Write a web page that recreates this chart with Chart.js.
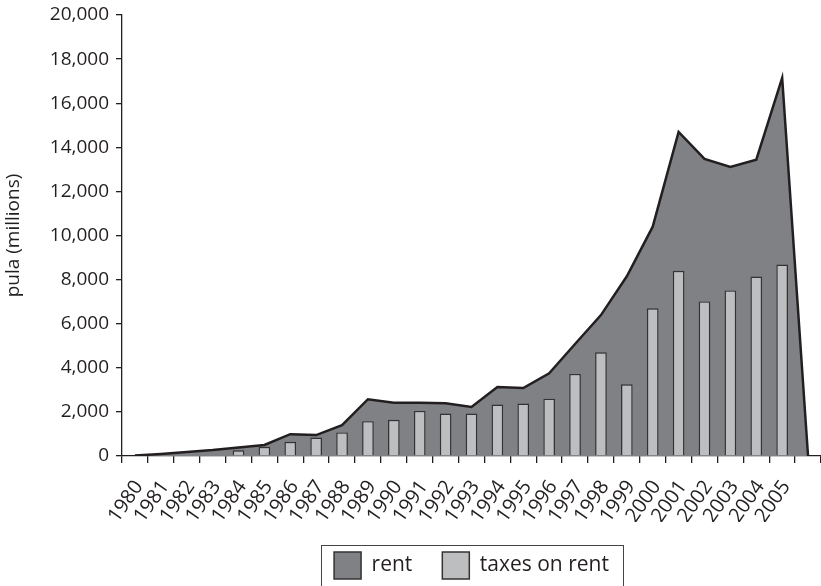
<!DOCTYPE html>
<html>
<head>
<meta charset="utf-8">
<script src="https://cdn.jsdelivr.net/npm/chart.js@4.4.3/dist/chart.umd.min.js"></script>
<style>
  html, body { margin: 0; padding: 0; background: #fff; }
  #wrap { width: 821px; height: 586px; }
</style>
</head>
<body>
<div id="wrap"><canvas id="chart" width="821" height="586"></canvas></div>
<script>
// categorie (l'ultima senza etichetta: solo il punto di chiusura dell'area)
const years = ['1980','1981','1982','1983','1984','1985','1986','1987','1988','1989',
  '1990','1991','1992','1993','1994','1995','1996','1997','1998','1999',
  '2000','2001','2002','2003','2004','2005',''];

// rent (area), pula milioni
const rent = [20, 90, 180, 270, 390, 500, 990, 950, 1400, 2575,
  2420, 2410, 2390, 2225, 3130, 3085, 3750, 5080, 6390, 8150,
  10400, 14700, 13470, 13110, 13440, 17150, 0];

// taxes on rent (barre)
const taxes = [0, 0, 0, 0, 260, 420, 645, 840, 1070, 1580,
  1640, 2045, 1925, 1925, 2330, 2380, 2600, 3720, 4700, 3250,
  6700, 8400, 7010, 7510, 8140, 8680, null];

const yTicks = [0, 2000, 4000, 6000, 8000, 10000, 12000, 14000, 16000, 18000, 20000];

const ink = '#231f20';
const FONT = "'Open Sans', sans-serif";

// legenda centrata sull'area del grafico + bordo
const legendFrame = {
  id: 'legendFrame',
  afterLayout(chart) {
    const lg = chart.legend;
    if (!lg) return;
    lg.left = chart.chartArea.left;
    lg.right = chart.chartArea.right;
    lg.width = lg.right - lg.left;
  },
  afterDraw(chart) {
    const lg = chart.legend;
    if (!lg || !lg.legendHitBoxes || !lg.legendHitBoxes.length) return;
    const hb = lg.legendHitBoxes;
    const x0 = hb[0].left - 13;
    const x1 = hb[hb.length - 1].left + hb[hb.length - 1].width + 14;
    const y0 = hb[0].top - 7;
    const y1 = hb[0].top + hb[0].height + 9;
    const ctx = chart.ctx;
    ctx.save();
    ctx.strokeStyle = '#444';
    ctx.lineWidth = 1;
    ctx.strokeRect(Math.round(x0) + 0.5, Math.round(y0) + 0.5, Math.round(x1 - x0), Math.round(y1 - y0));
    ctx.restore();
  }
};

const ctx = document.getElementById('chart').getContext('2d');
new Chart(ctx, {
  data: {
    labels: years,
    datasets: [
      {
        type: 'line',
        label: 'rent',
        data: rent,
        order: 2,
        fill: 'origin',
        backgroundColor: '#808184',
        borderColor: ink,
        borderWidth: 2.5,
        borderJoinStyle: 'miter',
        tension: 0,
        pointRadius: 0,
      },
      {
        type: 'bar',
        label: 'taxes on rent',
        data: taxes,
        order: 1,
        backgroundColor: '#bcbec0',
        borderColor: '#333',
        borderWidth: 1.4,
        barPercentage: 0.45,
        categoryPercentage: 1,
      }
    ]
  },
  options: {
    responsive: false,
    animation: false,
    layout: { padding: { top: 15, right: 0, left: 0, bottom: -3 } },
    plugins: {
      tooltip: { enabled: false },
      legend: {
        position: 'bottom',
        labels: {
          color: ink,
          font: { family: FONT, size: 21 },
          boxWidth: 27,
          boxHeight: 27,
          padding: 30,
          sort: (a, b) => a.datasetIndex - b.datasetIndex,
          generateLabels(chart) {
            const items = Chart.defaults.plugins.legend.labels.generateLabels(chart);
            items.forEach(it => { it.lineWidth = 1.5; it.strokeStyle = '#333'; });
            return items;
          }
        }
      }
    },
    scales: {
      x: {
        offset: true,
        afterFit(scale) { scale.height = 66; scale.paddingRight = 0; },
        grid: { offset: true, drawOnChartArea: false, tickLength: 7, color: ink, lineWidth: 1.3 },
        border: { color: ink, width: 1.3 },
        ticks: {
          color: ink,
          font: { family: FONT, size: 20 },
          autoSkip: false,
          maxRotation: 55,
          minRotation: 55,
          padding: 13,
          labelOffset: 4,
        }
      },
      y: {
        min: 0,
        max: 20000,
        afterFit(scale) { scale.width = 122; scale.paddingTop = 0; scale.paddingBottom = 0; },
        afterBuildTicks(scale) { scale.ticks = yTicks.map(v => ({ value: v })); },
        grid: { drawOnChartArea: false, tickLength: 6, color: ink, lineWidth: 1.3 },
        border: { color: ink, width: 1.3 },
        title: {
          display: true,
          text: 'pula (millions)',
          color: ink,
          font: { family: FONT, size: 19 },
          padding: { top: 2, bottom: 0 }
        },
        ticks: {
          color: ink,
          font: { family: FONT, size: 19 },
          padding: 7,
          callback: v => v.toLocaleString('en-US')
        }
      }
    }
  },
  plugins: [legendFrame]
});
</script>
</body>
</html>
